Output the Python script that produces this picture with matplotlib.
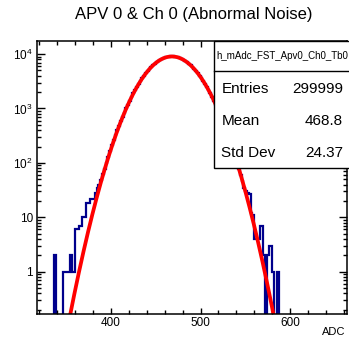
import numpy as np
import matplotlib
matplotlib.use("Agg")
import matplotlib.pyplot as plt
from matplotlib.patches import Rectangle
from matplotlib.lines import Line2D

plt.rcParams['font.family'] = ['Liberation Sans', 'DejaVu Sans']

# histogram: 2-ADC bins, first edge at 336
bin_start = 336
bin_width = 2
counts = [
    # 336 - 408 (left tail)
    2, 0, 0, 0, 0, 1, 1, 1, 1, 2, 1, 1, 6, 6, 7, 7, 10, 10, 18, 18,
    22, 22, 22, 28, 35, 40, 48, 62, 78, 100, 130, 165, 212, 260, 320, 400, 480,
    # 410 - 466
    578, 698, 838, 1000, 1184, 1393, 1627, 1888, 2179, 2494, 2837, 3205, 3595, 4006, 4435,
    4877, 5326, 5776, 6223, 6659, 7079, 7472, 7835, 8160, 8441, 8673, 8850, 8971, 9032,
    # 468 - 524
    9032, 8971, 8850, 8673, 8441, 8160, 7835, 7472, 7079, 6659, 6223, 5776, 5326, 4877,
    4435, 4006, 3595, 3205, 2837, 2494, 2179, 1888, 1627, 1393, 1184, 1000, 838, 698, 578,
    # 526 - 548
    475, 387, 314, 253, 202, 160, 127, 99, 77, 60, 46, 35,
    # 550 - 588 (right tail)
    30, 28, 27, 12, 11, 4, 4, 4, 7, 7, 2, 0, 2, 3, 3, 1, 0, 0, 1, 0,
]

# gaus fit parameters
fit_constant = 9040
fit_mean = 468.0
fit_sigma = 24.3

hist_name = "h_mAdc_FST_Apv0_Ch0_Tb0"
stat_names = ["Entries", "Mean", "Std Dev"]
stat_values = ["299999", "468.8", "24.37"]

x_ticks = [400, 500, 600]
y_ticks = [1, 10, 100, 1000, 10000]
y_tick_labels = ["1", "10", r"$\mathregular{10^{2}}$", r"$\mathregular{10^{3}}$", r"$\mathregular{10^{4}}$"]

W, H = 349, 341
fig = plt.figure(figsize=(W / 100, H / 100), dpi=100)
ax = fig.add_axes([37 / W, 1 - 314 / H, 310 / W, 273 / H])

edges = bin_start + bin_width * np.arange(len(counts) + 1)
vals = np.array(counts, dtype=float)
vals[vals == 0] = 1e-3  # zero bins drop to the bottom like ROOT
ax.stairs(vals, edges, baseline=1e-3, color='#00008c', lw=1.6)

xf = np.linspace(330, 610, 600)
yf = fit_constant * np.exp(-0.5 * ((xf - fit_mean) / fit_sigma) ** 2)
ax.plot(xf, yf, color='red', lw=2.7)

ax.set_yscale('log')
ax.set_xlim(317.3, 663.7)
ax.set_ylim(0.167, 1.74e4)

ax.set_xticks(x_ticks)
ax.set_xticks(np.arange(320, 664, 20), minor=True)
ax.set_yticks(y_ticks)
ax.set_yticklabels(y_tick_labels)
ax.yaxis.set_minor_locator(matplotlib.ticker.LogLocator(base=10, subs=np.arange(2, 10)))
ax.yaxis.set_minor_formatter(matplotlib.ticker.NullFormatter())

ax.tick_params(which='both', direction='in', top=True, right=True, width=1.0, labelsize=8.5)
ax.tick_params(axis='x', which='major', length=4.2, pad=2)
ax.tick_params(axis='x', which='minor', length=2.6)
ax.tick_params(axis='y', which='major', length=6, pad=3)
ax.tick_params(axis='y', which='minor', length=3.2)
for s in ax.spines.values():
    s.set_linewidth(1.1)

fig.text(194 / W, 1 - 15 / H, "APV 0 & Ch 0 (Abnormal Noise)", ha='center', va='center', fontsize=12)
fig.text(345 / W, 1 - 332 / H, "ADC", ha='right', va='center', fontsize=8)

# stats box
bx0, by_top, by_sep, by_bot = 214, 41, 71, 167.5
fig.patches.append(Rectangle((bx0 / W, 1 - by_bot / H), (W + 5 - bx0) / W, (by_bot - by_top) / H,
                             transform=fig.transFigure, facecolor='white', edgecolor='black', lw=1.0))
fig.lines.append(Line2D([bx0 / W, 1.01], [1 - by_sep / H] * 2, transform=fig.transFigure, color='black', lw=1.0))
fig.text((bx0 + 2) / W, 1 - 56 / H, hist_name, ha='left', va='center', fontsize=7)
for i, (n, v) in enumerate(zip(stat_names, stat_values)):
    yy = 1 - (89 + 32.2 * i) / H
    fig.text(221.5 / W, yy, n, ha='left', va='center', fontsize=11)
    fig.text(343 / W, yy, v, ha='right', va='center', fontsize=11)

fig.savefig("out.png", dpi=100)
